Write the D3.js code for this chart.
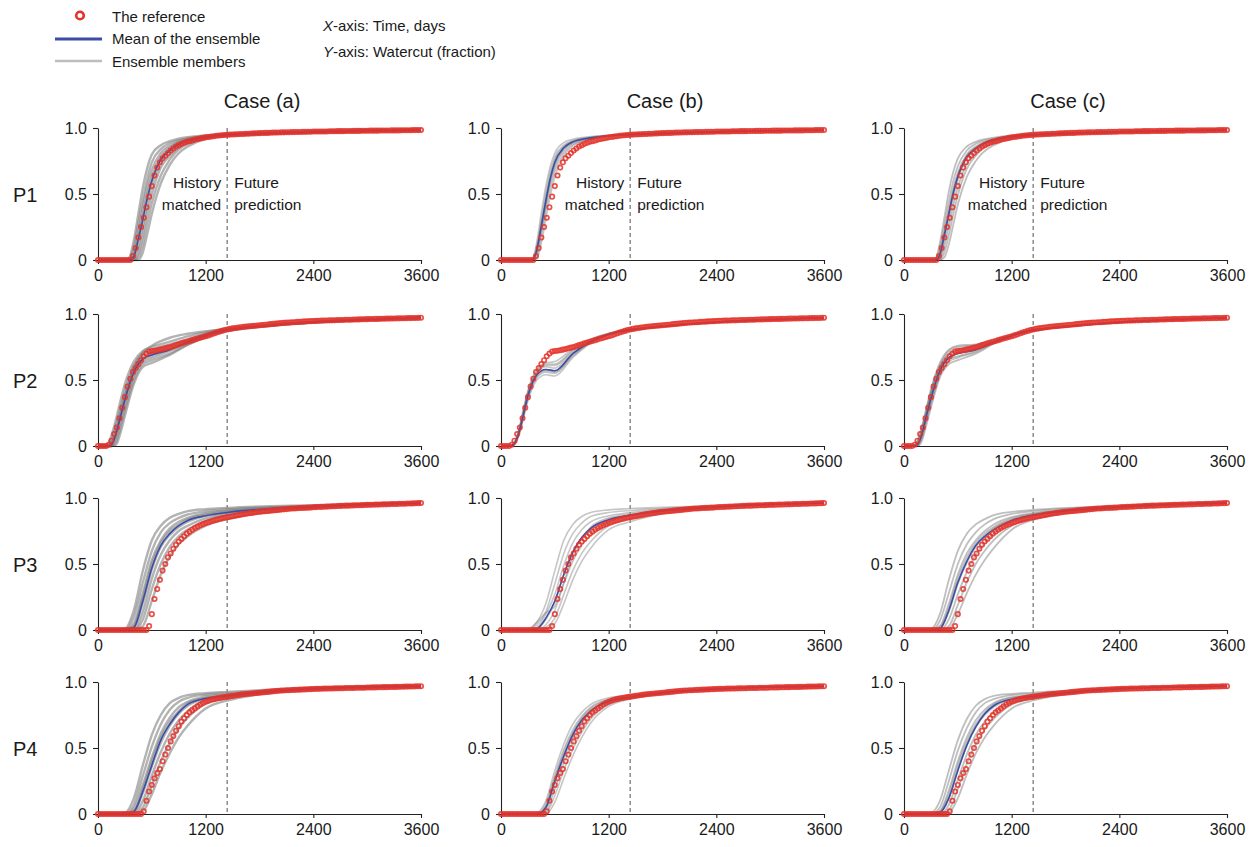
<!DOCTYPE html>
<html><head><meta charset="utf-8">
<script src="https://cdn.jsdelivr.net/npm/d3@7"></script>
<style>
body{margin:0;background:#fff}
svg{display:block}
text{font-family:"Liberation Sans",Arial,Helvetica,sans-serif;fill:#1a1a1a}
</style>
</head><body>
<svg id="chart" width="1253" height="847"></svg>
<script>
// ---------------- DATA ----------------
const producers = ["P1", "P2", "P3", "P4"];
const cases = ["Case (a)", "Case (b)", "Case (c)"];
const xTicks = [0, 1200, 2400, 3600];
const yTicks = [0, 0.5, 1.0];
const yTickLabels = ["0", "0.5", "1.0"];
const historyEnd = 1440;

// reference (truth) watercut, one marker every 30 days, 0..3600
const refTimes = d3.range(0, 3601, 30);
const refP1 = [0,0,0,0,0,0,0,0,0,0,0,0,0,
  0.03,0.09,0.17,0.25,0.32,0.40,0.48,0.56,0.64,0.70,
  0.74,0.77,0.79,0.81,0.83,0.845,0.86,0.87,0.88,0.888,
  0.895,0.90,0.906,0.912,0.917,0.921,0.925,0.929,0.932,0.935,
  0.938,0.941,0.943,0.945,0.947,0.949,
  0.950,0.951,0.952,0.953,0.954,0.955,0.956,0.957,0.958,0.959,0.960,0.961,
  0.962,0.963,0.963,0.964,0.965,0.965,0.966,0.967,0.967,0.968,0.968,0.969,0.969,0.970,0.970,0.971,0.971,0.972,0.972,0.973,
  0.973,0.973,0.974,0.974,0.974,0.975,0.975,0.975,0.976,0.976,0.976,0.977,0.977,0.977,0.978,0.978,0.978,0.979,0.979,0.979,
  0.980,0.980,0.980,0.980,0.981,0.981,0.981,0.981,0.982,0.982,0.982,0.982,0.983,0.983,0.983,0.983,0.984,0.984,0.984,0.985];
const refP2 = [0,0,0,0,
  0.01,0.04,0.09,0.14,0.21,0.29,0.37,0.45,0.51,0.56,0.59,0.62,0.65,0.68,0.70,
  0.715,0.72,0.722,0.725,0.73,0.735,0.74,0.745,0.75,0.757,
  0.764,0.771,0.778,0.784,0.79,0.796,0.802,0.808,0.814,0.82,
  0.826,0.832,0.838,0.845,0.852,0.859,0.866,0.872,0.878,0.883,
  0.887,0.891,0.894,0.897,0.900,0.903,0.905,0.907,0.909,0.911,0.913,0.915,
  0.917,0.919,0.921,0.923,0.925,0.927,0.929,0.931,0.933,0.935,0.936,0.937,0.938,0.940,0.941,0.942,0.944,0.945,0.946,0.947,
  0.948,0.949,0.950,0.950,0.951,0.952,0.952,0.953,0.954,0.954,0.955,0.956,0.956,0.957,0.958,0.958,0.959,0.960,0.960,0.961,
  0.962,0.962,0.963,0.963,0.964,0.964,0.965,0.965,0.966,0.966,0.967,0.967,0.968,0.968,0.969,0.969,0.970,0.970,0.971,0.972];
const refP3 = [0,0,0,0,0,0,0,0,0,0,0,0,0,0,0,0,0,0,0,
  0.03,0.12,0.235,0.31,0.38,0.45,0.50,0.55,0.58,0.615,
  0.645,0.67,0.69,0.71,0.73,0.745,0.76,0.772,0.783,0.793,
  0.802,0.81,0.817,0.824,0.83,0.836,0.841,0.846,0.85,0.854,
  0.858,0.862,0.866,0.870,0.874,0.878,0.881,0.884,0.887,0.890,0.893,0.896,
  0.898,0.900,0.902,0.904,0.906,0.908,0.910,0.912,0.914,0.916,0.918,0.920,0.921,0.922,0.924,0.925,0.926,0.927,0.928,0.930,
  0.931,0.932,0.933,0.934,0.935,0.936,0.937,0.938,0.939,0.940,0.941,0.942,0.942,0.943,0.944,0.945,0.945,0.946,0.947,0.948,
  0.948,0.949,0.950,0.950,0.951,0.952,0.952,0.953,0.954,0.954,0.955,0.956,0.956,0.957,0.958,0.958,0.959,0.960,0.961,0.962];
const refP4 = [0,0,0,0,0,0,0,0,0,0,0,0,0,0,0,0,0,
  0.02,0.10,0.17,0.22,0.27,0.31,0.34,0.40,0.45,0.50,
  0.55,0.59,0.63,0.665,0.70,0.725,0.75,0.77,0.785,0.80,
  0.815,0.83,0.84,0.85,0.858,0.865,0.87,0.875,0.879,0.883,
  0.886,0.889,
  0.892,0.895,0.898,0.901,0.904,0.907,0.909,0.911,0.913,0.915,0.917,0.919,
  0.921,0.923,0.925,0.927,0.929,0.931,0.933,0.935,0.936,0.937,0.938,0.939,0.940,0.941,0.942,0.943,0.944,0.945,0.946,0.947,
  0.948,0.948,0.949,0.950,0.950,0.951,0.951,0.952,0.952,0.953,0.953,0.954,0.954,0.955,0.955,0.956,0.956,0.957,0.957,0.958,
  0.958,0.959,0.959,0.960,0.960,0.961,0.961,0.962,0.962,0.963,0.963,0.964,0.964,0.965,0.965,0.966,0.966,0.967,0.968,0.968];

// ensemble time grids (days), one per producer
const gridP1 = [0,300,350,400,450,500,550,600,700,800,1000,1440,3600];
const gridP2 = [0,100,150,200,250,300,400,500,600,800,1000,1440,3600];
const gridP3 = [0,300,400,500,600,700,800,900,1000,1200,1440,2400,3600];
const gridP4 = [0,300,400,500,600,700,800,900,1000,1200,1440,2400,3600];

// ---- P1 ----
const meanP1a = [0,0,0,0.03,0.16,0.31,0.47,0.60,0.76,0.83,0.905,0.948,0.985];
const membersP1a = [
  [0,0,0.02,0.15,0.35,0.55,0.70,0.80,0.87,0.90,0.93,0.951,0.985],
  [0,0,0.01,0.10,0.28,0.46,0.62,0.74,0.84,0.885,0.922,0.95,0.985],
  [0,0,0,0.06,0.22,0.40,0.56,0.68,0.81,0.865,0.917,0.949,0.985],
  [0,0,0,0.03,0.17,0.33,0.50,0.63,0.78,0.85,0.91,0.948,0.985],
  [0,0,0,0.01,0.10,0.26,0.43,0.57,0.74,0.82,0.90,0.947,0.985],
  [0,0,0,0,0.05,0.19,0.36,0.50,0.70,0.79,0.89,0.946,0.985],
  [0,0,0,0,0.02,0.12,0.28,0.43,0.64,0.76,0.88,0.945,0.985],
  [0,0,0,0,0,0.06,0.20,0.35,0.58,0.72,0.86,0.944,0.985]];
const meanP1b = [0,0,0,0.08,0.26,0.45,0.62,0.74,0.85,0.895,0.925,0.95,0.985];
const membersP1b = [
  [0,0,0.01,0.14,0.36,0.56,0.71,0.81,0.89,0.915,0.935,0.952,0.985],
  [0,0,0,0.11,0.31,0.51,0.67,0.78,0.87,0.905,0.93,0.951,0.985],
  [0,0,0,0.09,0.28,0.47,0.64,0.76,0.86,0.90,0.928,0.95,0.985],
  [0,0,0,0.07,0.25,0.44,0.61,0.73,0.85,0.893,0.925,0.95,0.985],
  [0,0,0,0.05,0.22,0.41,0.58,0.70,0.83,0.885,0.922,0.95,0.985],
  [0,0,0,0.03,0.18,0.37,0.54,0.67,0.81,0.875,0.918,0.949,0.985],
  [0,0,0,0.01,0.13,0.31,0.49,0.63,0.79,0.865,0.915,0.949,0.985],
  [0,0,0,0.06,0.24,0.43,0.60,0.72,0.84,0.89,0.924,0.95,0.985]];
const meanP1c = [0,0,0,0.04,0.19,0.35,0.51,0.63,0.78,0.845,0.91,0.948,0.985];
const membersP1c = [
  [0,0,0.01,0.13,0.32,0.52,0.67,0.77,0.86,0.895,0.927,0.951,0.985],
  [0,0,0,0.09,0.26,0.44,0.60,0.71,0.83,0.88,0.92,0.95,0.985],
  [0,0,0,0.06,0.21,0.38,0.54,0.66,0.80,0.86,0.915,0.949,0.985],
  [0,0,0,0.03,0.16,0.32,0.48,0.61,0.77,0.84,0.91,0.948,0.985],
  [0,0,0,0.01,0.11,0.26,0.42,0.55,0.73,0.82,0.90,0.947,0.985],
  [0,0,0,0,0.06,0.19,0.35,0.49,0.69,0.79,0.89,0.946,0.985],
  [0,0,0,0,0.02,0.12,0.27,0.42,0.63,0.75,0.87,0.945,0.985],
  [0,0,0,0.05,0.19,0.36,0.52,0.64,0.79,0.85,0.912,0.948,0.985]];

// ---- P2 ----
const meanP2a = [0,0,0.01,0.09,0.22,0.35,0.56,0.66,0.69,0.73,0.79,0.88,0.972];
const membersP2a = [
  [0,0.01,0.08,0.20,0.34,0.47,0.64,0.72,0.75,0.79,0.83,0.89,0.972],
  [0,0,0.05,0.16,0.29,0.42,0.61,0.70,0.73,0.77,0.81,0.885,0.972],
  [0,0,0.03,0.12,0.25,0.38,0.58,0.68,0.71,0.75,0.80,0.883,0.972],
  [0,0,0.01,0.09,0.22,0.35,0.56,0.66,0.69,0.73,0.79,0.88,0.972],
  [0,0,0,0.06,0.18,0.31,0.53,0.64,0.67,0.72,0.78,0.878,0.972],
  [0,0,0,0.03,0.14,0.27,0.50,0.62,0.65,0.70,0.77,0.875,0.972],
  [0,0,0,0.01,0.10,0.23,0.47,0.60,0.63,0.69,0.765,0.873,0.972],
  [0,0,0.02,0.11,0.24,0.37,0.60,0.71,0.76,0.82,0.85,0.885,0.972]];
const meanP2b = [0,0,0.02,0.10,0.24,0.38,0.54,0.58,0.57,0.70,0.79,0.88,0.972];
const membersP2b = [
  [0,0,0.03,0.13,0.28,0.42,0.58,0.63,0.64,0.74,0.81,0.885,0.972],
  [0,0,0.02,0.11,0.26,0.40,0.56,0.61,0.61,0.72,0.80,0.883,0.972],
  [0,0,0.02,0.10,0.24,0.38,0.54,0.58,0.57,0.70,0.79,0.88,0.972],
  [0,0,0.01,0.09,0.22,0.36,0.52,0.56,0.55,0.69,0.785,0.88,0.972],
  [0,0,0.01,0.08,0.21,0.34,0.50,0.54,0.53,0.67,0.78,0.878,0.972],
  [0,0,0.03,0.12,0.25,0.39,0.55,0.60,0.59,0.71,0.795,0.882,0.972],
  [0,0,0.01,0.09,0.23,0.37,0.53,0.57,0.56,0.68,0.785,0.879,0.972],
  [0,0,0.02,0.11,0.27,0.41,0.57,0.62,0.62,0.73,0.805,0.884,0.972]];
const meanP2c = [0,0,0.01,0.09,0.23,0.36,0.57,0.67,0.70,0.73,0.785,0.878,0.972];
const membersP2c = [
  [0,0,0.04,0.15,0.29,0.43,0.63,0.73,0.76,0.77,0.80,0.882,0.972],
  [0,0,0.02,0.12,0.26,0.40,0.60,0.70,0.73,0.75,0.79,0.88,0.972],
  [0,0,0.01,0.09,0.23,0.36,0.57,0.67,0.70,0.73,0.785,0.878,0.972],
  [0,0,0,0.06,0.19,0.32,0.54,0.64,0.67,0.71,0.78,0.877,0.972],
  [0,0,0,0.04,0.16,0.29,0.52,0.62,0.65,0.70,0.775,0.876,0.972],
  [0,0,0.02,0.11,0.25,0.39,0.59,0.69,0.72,0.74,0.79,0.879,0.972],
  [0,0,0.01,0.08,0.21,0.34,0.55,0.66,0.68,0.72,0.782,0.877,0.972],
  [0,0,0.03,0.13,0.27,0.41,0.61,0.72,0.75,0.76,0.795,0.881,0.972]];

// ---- P3 ----
const meanP3a = [0,0,0.02,0.22,0.47,0.64,0.73,0.79,0.83,0.865,0.89,0.935,0.962];
const membersP3a = [
  [0,0.01,0.15,0.45,0.68,0.79,0.85,0.88,0.90,0.915,0.925,0.945,0.962],
  [0,0,0.10,0.36,0.60,0.74,0.81,0.85,0.875,0.90,0.915,0.94,0.962],
  [0,0,0.05,0.28,0.53,0.68,0.77,0.82,0.85,0.885,0.905,0.938,0.962],
  [0,0,0.02,0.21,0.46,0.63,0.72,0.78,0.82,0.865,0.89,0.935,0.962],
  [0,0,0,0.14,0.39,0.57,0.68,0.75,0.79,0.845,0.88,0.932,0.962],
  [0,0,0,0.08,0.31,0.50,0.63,0.71,0.76,0.825,0.87,0.93,0.962],
  [0,0,0,0.03,0.22,0.42,0.56,0.65,0.71,0.79,0.84,0.925,0.962],
  [0,0,0.03,0.25,0.50,0.66,0.75,0.80,0.84,0.875,0.90,0.936,0.962]];
const meanP3b = [0,0,0.01,0.09,0.22,0.42,0.59,0.70,0.77,0.835,0.87,0.932,0.962];
const membersP3b = [
  [0,0.01,0.06,0.20,0.45,0.68,0.80,0.86,0.89,0.91,0.92,0.94,0.962],
  [0,0,0.04,0.14,0.35,0.58,0.73,0.81,0.86,0.89,0.905,0.937,0.962],
  [0,0,0.02,0.12,0.27,0.49,0.66,0.76,0.82,0.865,0.89,0.935,0.962],
  [0,0,0.01,0.08,0.21,0.42,0.59,0.70,0.77,0.84,0.87,0.932,0.962],
  [0,0,0,0.04,0.15,0.35,0.52,0.64,0.72,0.815,0.86,0.93,0.962],
  [0,0,0,0.02,0.09,0.27,0.45,0.58,0.67,0.79,0.845,0.928,0.962],
  [0,0,0,0.01,0.05,0.20,0.38,0.52,0.62,0.76,0.82,0.925,0.962],
  [0,0,0.06,0.13,0.18,0.36,0.56,0.69,0.78,0.85,0.88,0.934,0.962]];
const meanP3c = [0,0,0.01,0.15,0.36,0.52,0.64,0.71,0.76,0.83,0.87,0.932,0.962];
const membersP3c = [
  [0,0.01,0.12,0.38,0.60,0.73,0.80,0.84,0.87,0.895,0.91,0.94,0.962],
  [0,0,0.07,0.28,0.50,0.65,0.74,0.80,0.84,0.88,0.90,0.937,0.962],
  [0,0,0.03,0.20,0.42,0.58,0.68,0.75,0.80,0.855,0.885,0.934,0.962],
  [0,0,0.01,0.14,0.35,0.51,0.63,0.71,0.77,0.835,0.875,0.932,0.962],
  [0,0,0,0.08,0.27,0.44,0.57,0.66,0.73,0.815,0.865,0.93,0.962],
  [0,0,0,0.03,0.19,0.36,0.50,0.60,0.68,0.79,0.85,0.928,0.962],
  [0,0,0,0.01,0.12,0.28,0.42,0.53,0.62,0.76,0.835,0.926,0.962],
  [0,0,0.02,0.17,0.39,0.55,0.66,0.73,0.78,0.845,0.88,0.933,0.962]];

// ---- P4 ----
const meanP4a = [0,0,0.02,0.17,0.37,0.56,0.68,0.77,0.83,0.875,0.895,0.95,0.968];
const membersP4a = [
  [0,0.01,0.12,0.37,0.60,0.75,0.84,0.88,0.90,0.915,0.925,0.955,0.968],
  [0,0,0.07,0.29,0.51,0.68,0.79,0.85,0.88,0.905,0.915,0.952,0.968],
  [0,0,0.04,0.22,0.43,0.61,0.73,0.81,0.85,0.89,0.905,0.951,0.968],
  [0,0,0.02,0.16,0.36,0.54,0.67,0.76,0.82,0.875,0.895,0.95,0.968],
  [0,0,0,0.10,0.29,0.47,0.61,0.71,0.78,0.86,0.89,0.948,0.968],
  [0,0,0,0.05,0.22,0.40,0.54,0.65,0.73,0.835,0.875,0.946,0.968],
  [0,0,0,0.02,0.15,0.32,0.46,0.58,0.67,0.80,0.86,0.944,0.968],
  [0,0,0.01,0.19,0.40,0.58,0.70,0.78,0.84,0.88,0.90,0.95,0.968]];
const meanP4b = [0,0,0,0.05,0.25,0.44,0.60,0.71,0.78,0.855,0.885,0.948,0.968];
const membersP4b = [
  [0,0,0.01,0.10,0.33,0.53,0.68,0.77,0.83,0.88,0.90,0.95,0.968],
  [0,0,0,0.08,0.29,0.49,0.64,0.74,0.81,0.87,0.895,0.949,0.968],
  [0,0,0,0.06,0.26,0.45,0.61,0.72,0.79,0.86,0.89,0.948,0.968],
  [0,0,0,0.04,0.23,0.42,0.58,0.69,0.77,0.85,0.885,0.947,0.968],
  [0,0,0,0.02,0.19,0.38,0.54,0.66,0.75,0.84,0.88,0.946,0.968],
  [0,0,0,0.01,0.14,0.33,0.49,0.62,0.72,0.83,0.875,0.945,0.968],
  [0,0,0,0,0.09,0.27,0.44,0.58,0.69,0.815,0.87,0.944,0.968],
  [0,0,0,0.05,0.27,0.47,0.62,0.73,0.80,0.865,0.893,0.948,0.968]];
const meanP4c = [0,0,0.01,0.12,0.33,0.52,0.66,0.76,0.82,0.87,0.89,0.95,0.968];
const membersP4c = [
  [0,0.01,0.10,0.33,0.56,0.72,0.82,0.87,0.895,0.91,0.92,0.953,0.968],
  [0,0,0.05,0.25,0.48,0.65,0.77,0.84,0.87,0.90,0.91,0.951,0.968],
  [0,0,0.02,0.18,0.40,0.58,0.71,0.79,0.84,0.885,0.90,0.95,0.968],
  [0,0,0.01,0.12,0.33,0.52,0.66,0.75,0.81,0.87,0.89,0.949,0.968],
  [0,0,0,0.07,0.26,0.45,0.60,0.70,0.77,0.85,0.885,0.947,0.968],
  [0,0,0,0.03,0.19,0.38,0.53,0.64,0.72,0.83,0.875,0.946,0.968],
  [0,0,0,0.01,0.12,0.30,0.46,0.58,0.67,0.80,0.86,0.944,0.968],
  [0,0,0.02,0.15,0.37,0.55,0.68,0.77,0.83,0.88,0.897,0.95,0.968]];

const panels = [
  {row:0,col:0,grid:gridP1,ref:refP1,mean:meanP1a,members:membersP1a},
  {row:0,col:1,grid:gridP1,ref:refP1,mean:meanP1b,members:membersP1b},
  {row:0,col:2,grid:gridP1,ref:refP1,mean:meanP1c,members:membersP1c},
  {row:1,col:0,grid:gridP2,ref:refP2,mean:meanP2a,members:membersP2a},
  {row:1,col:1,grid:gridP2,ref:refP2,mean:meanP2b,members:membersP2b},
  {row:1,col:2,grid:gridP2,ref:refP2,mean:meanP2c,members:membersP2c},
  {row:2,col:0,grid:gridP3,ref:refP3,mean:meanP3a,members:membersP3a},
  {row:2,col:1,grid:gridP3,ref:refP3,mean:meanP3b,members:membersP3b},
  {row:2,col:2,grid:gridP3,ref:refP3,mean:meanP3c,members:membersP3c},
  {row:3,col:0,grid:gridP4,ref:refP4,mean:meanP4a,members:membersP4a},
  {row:3,col:1,grid:gridP4,ref:refP4,mean:meanP4b,members:membersP4b},
  {row:3,col:2,grid:gridP4,ref:refP4,mean:meanP4c,members:membersP4c}
];

// ---------------- LAYOUT / STYLE ----------------
const colX = [98, 501, 904];
const rowY = [128, 314, 498, 682];
const pw = 323, ph = 132;
const RED = "#e4332a", BLUE = "#3a4ea8", GRAY = "#808080";
const memberWidth = [2.4, 1.6, 1.8];
const memberOpacity = [0.6, 0.45, 0.5];

const svg = d3.select("#chart");

// Legend
const leg = svg.append("g");
leg.append("circle").attr("cx", 80).attr("cy", 15.5).attr("r", 3.8)
  .attr("fill", "#fff").attr("stroke", RED).attr("stroke-width", 2.6);
leg.append("line").attr("x1", 55).attr("x2", 102).attr("y1", 39).attr("y2", 39)
  .attr("stroke", BLUE).attr("stroke-width", 3);
leg.append("line").attr("x1", 55).attr("x2", 102).attr("y1", 61).attr("y2", 61)
  .attr("stroke", "#bdbdbd").attr("stroke-width", 2.5);
const legTexts = ["The reference", "Mean of the ensemble", "Ensemble members"];
legTexts.forEach((t, i) => leg.append("text").attr("x", 112).attr("y", 22 + i * 22.3)
  .attr("font-size", 15).text(t));

const axTxt = svg.append("g").attr("font-size", 15);
const t1 = axTxt.append("text").attr("x", 323).attr("y", 31);
t1.append("tspan").attr("font-style", "italic").text("X");
t1.append("tspan").text("-axis: Time, days");
const t2 = axTxt.append("text").attr("x", 323).attr("y", 57);
t2.append("tspan").attr("font-style", "italic").text("Y");
t2.append("tspan").text("-axis: Watercut (fraction)");

// Column titles & row labels
cases.forEach((c, i) => svg.append("text").attr("x", colX[i] + 164).attr("y", 108)
  .attr("text-anchor", "middle").attr("font-size", 20).text(c));
producers.forEach((p, i) => svg.append("text").attr("x", 13).attr("y", rowY[i] + 74)
  .attr("font-size", 20).text(p));

// Panels
panels.forEach(p => {
  const x = d3.scaleLinear().domain([0, 3600]).range([0, pw]);
  const y = d3.scaleLinear().domain([0, 1]).range([ph, 0]);
  const g = svg.append("g").attr("transform", `translate(${colX[p.col]},${rowY[p.row]})`);

  const line = d3.line().x((d, i) => x(p.grid[i])).y(d => y(d)).curve(d3.curveMonotoneX);

  // ensemble members
  g.append("g").selectAll("path").data(p.members).join("path")
    .attr("d", line).attr("fill", "none").attr("stroke", GRAY)
    .attr("stroke-width", memberWidth[p.col]).attr("stroke-opacity", memberOpacity[p.col]);

  // axes
  const xa = g.append("g").attr("transform", `translate(0,${ph})`)
    .call(d3.axisBottom(x).tickValues(xTicks).tickSize(4).tickSizeOuter(0).tickPadding(6)
      .tickFormat(d3.format("d")));
  const ya = g.append("g")
    .call(d3.axisLeft(y).tickValues(yTicks).tickSize(5).tickSizeOuter(0).tickPadding(6)
      .tickFormat((d, i) => yTickLabels[i]));
  [xa, ya].forEach(a => {
    a.selectAll("path,line").attr("stroke", "#222").attr("stroke-width", 1.1);
    a.selectAll("text").attr("font-size", 16).attr("fill", "#1a1a1a")
      .attr("font-family", '"Liberation Sans",Arial,sans-serif');
  });

  // history / prediction divider
  g.append("line").attr("x1", x(historyEnd)).attr("x2", x(historyEnd))
    .attr("y1", y(1.0)).attr("y2", y(0))
    .attr("stroke", "#8c8c8c").attr("stroke-width", 1.5).attr("stroke-dasharray", "4,3");

  // mean of ensemble
  g.append("path").attr("d", line(p.mean)).attr("fill", "none")
    .attr("stroke", BLUE).attr("stroke-width", 1.6);

  // reference markers
  g.append("g").selectAll("circle").data(p.ref).join("circle")
    .attr("cx", (d, i) => x(refTimes[i])).attr("cy", d => y(d)).attr("r", 2.2)
    .attr("fill", "none").attr("stroke", RED).attr("stroke-width", 1.7).attr("stroke-opacity", 0.85);

  if (p.row === 0) {
    const xd = x(historyEnd);
    g.append("text").attr("x", xd - 6).attr("y", y(0.545)).attr("text-anchor", "end")
      .attr("font-size", 15.5).text("History");
    g.append("text").attr("x", xd - 6).attr("y", y(0.38)).attr("text-anchor", "end")
      .attr("font-size", 15.5).text("matched");
    g.append("text").attr("x", xd + 7).attr("y", y(0.545)).attr("font-size", 15.5).text("Future");
    g.append("text").attr("x", xd + 7).attr("y", y(0.38)).attr("font-size", 15.5).text("prediction");
  }
});
</script>
</body></html>
